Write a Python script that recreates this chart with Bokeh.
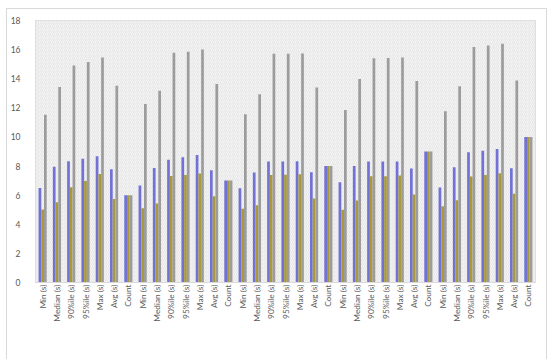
import numpy as np
from bokeh.plotting import figure
from bokeh.models import (ColumnDataSource, FixedTicker, Legend, LegendItem,
                          BoxAnnotation, Range1d)
from bokeh.transform import dodge
from bokeh.embed import file_html
from bokeh.resources import INLINE

stats = ["Min (s)", "Median (s)", "90%ile (s)", "95%ile (s)", "Max (s)", "Avg (s)", "Count"]
n_groups = 5
categories = stats * n_groups

boot_servers = [6.5, 7.96, 8.33, 8.51, 8.67, 7.78, 6.0,
                6.66, 7.87, 8.44, 8.6, 8.76, 7.71, 7.0,
                6.48, 7.55, 8.31, 8.31, 8.33, 7.57, 8.0,
                6.89, 8.01, 8.31, 8.31, 8.31, 7.83, 9.0,
                6.52, 7.92, 8.95, 9.06, 9.18, 7.85, 10.0]
delete_servers = [5.01, 5.51, 6.54, 6.98, 7.46, 5.74, 6.0,
                  5.1, 5.42, 7.32, 7.39, 7.48, 5.93, 7.0,
                  5.06, 5.31, 7.39, 7.41, 7.44, 5.77, 8.0,
                  4.99, 5.63, 7.3, 7.3, 7.35, 6.04, 9.0,
                  5.24, 5.65, 7.28, 7.39, 7.51, 6.09, 10.0]
total = [11.53, 13.43, 14.9, 15.15, 15.45, 13.52, 6.0,
         12.27, 13.18, 15.79, 15.86, 16.0, 13.64, 7.0,
         11.56, 12.93, 15.72, 15.72, 15.74, 13.39, 8.0,
         11.85, 13.98, 15.4, 15.42, 15.45, 13.84, 9.0,
         11.76, 13.48, 16.18, 16.29, 16.41, 13.87, 10.0]
y_ticks = [0, 2, 4, 6, 8, 10, 12, 14, 16, 18]

series_names = ["Boot_Servers", "Delete_Servers", "Total"]
colors = ["#7272D6", "#A89A3A", "#9C9C9C"]

FONT = "Lato"
TXT = "#595959"

x = np.arange(len(categories)) + 0.5
src = ColumnDataSource(dict(x=x, boot=boot_servers, delete=delete_servers, total=total))

p = figure(frame_width=500, frame_height=262, output_backend="svg", toolbar_location=None,
           x_range=Range1d(0, len(categories)), y_range=Range1d(0, 18),
           min_border_left=26, min_border_right=11, min_border_top=11,
           min_border_bottom=0)
p.margin = (8, 0, 0, 6)
p.styles = {"border": "1px solid #d9d9d9"}

p.add_layout(BoxAnnotation(left=0, right=len(categories), bottom=0, top=18,
                           fill_color="#f4f4f4", fill_alpha=1.0,
                           hatch_pattern="/", hatch_color="#dcdcdc",
                           hatch_scale=4, hatch_weight=0.6,
                           line_color=None, level="underlay"))

bw = 0.19
renderers = []
for field, off, c in zip(["boot", "delete", "total"], [-bw, 0, bw], colors):
    r = p.vbar(x=dodge("x", off), top=field, width=bw, bottom=0, source=src,
               fill_color=c, line_color=None)
    renderers.append(r)

p.xaxis.ticker = FixedTicker(ticks=list(x))
p.xaxis.major_label_overrides = {float(v): c for v, c in zip(x, categories)}
p.xaxis.major_label_orientation = np.pi / 2
p.xaxis.major_tick_line_color = None
p.xaxis.minor_tick_line_color = None
p.xaxis.major_tick_out = 0
p.xaxis.major_tick_in = 0
p.xaxis.axis_line_color = "#d9d9d9"
p.xaxis.major_label_text_font = FONT
p.xaxis.major_label_text_font_size = "8.3px"
p.xaxis.major_label_text_color = TXT
p.xaxis.major_label_standoff = 2

p.yaxis.ticker = FixedTicker(ticks=y_ticks)
p.yaxis.major_tick_line_color = None
p.yaxis.minor_tick_line_color = None
p.yaxis.axis_line_color = None
p.yaxis.major_label_text_font = FONT
p.yaxis.major_label_text_font_size = "8.5px"
p.yaxis.major_label_text_color = TXT
p.yaxis.major_label_standoff = 9

p.ygrid.ticker = FixedTicker(ticks=y_ticks)
p.ygrid.grid_line_color = "#d9d9d9"
p.xgrid.ticker = FixedTicker(ticks=list(range(len(categories) + 1)))
p.xgrid.grid_line_color = "#e0e0e0"

p.outline_line_color = "#d9d9d9"
p.background_fill_color = "white"

legend = Legend(items=[LegendItem(label=n, renderers=[r]) for n, r in zip(series_names, renderers)],
                orientation="horizontal", location="top_center",
                label_text_font=FONT, label_text_font_size="8.5px", label_text_color=TXT,
                glyph_width=6, glyph_height=6, label_standoff=3, spacing=12,
                border_line_color=None, background_fill_alpha=0, padding=1, margin=0,
                label_height=7)
p.add_layout(legend, "below")

open("out.html", "w").write(file_html(p, INLINE))
